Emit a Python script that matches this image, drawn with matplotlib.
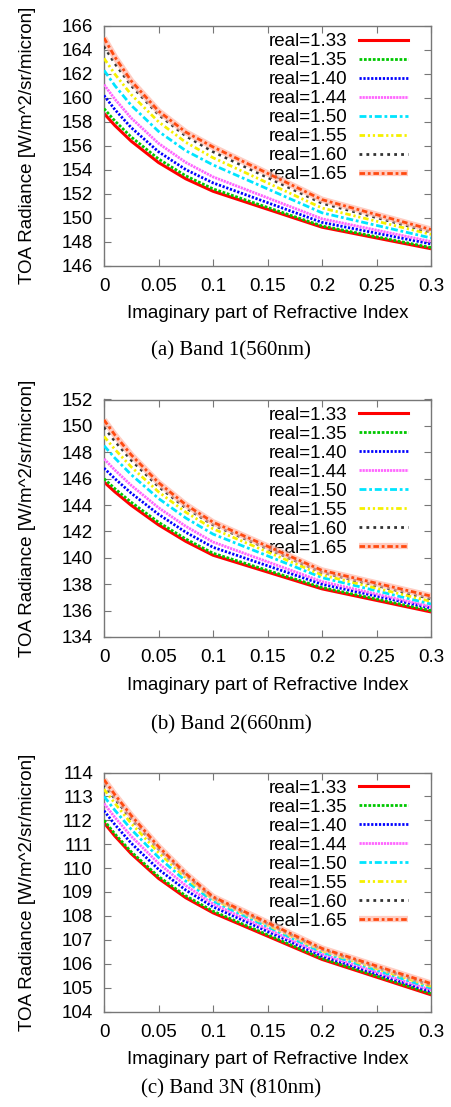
import matplotlib
matplotlib.use("Agg")
import matplotlib.pyplot as plt

# ---------------- data ----------------
imag_k = [0.0, 0.01, 0.025, 0.05, 0.075, 0.1, 0.2, 0.3]
real_labels = ["real=1.33", "real=1.35", "real=1.40", "real=1.44",
               "real=1.50", "real=1.55", "real=1.60", "real=1.65"]

band1 = [
    [158.70, 157.69, 156.38, 154.6, 153.24, 152.2, 149.2, 147.4],
    [159.10, 158.07, 156.73, 154.9, 153.49, 152.4, 149.3, 147.5],
    [160.20, 159.02, 157.51, 155.5, 154.01, 152.9, 149.6, 147.8],
    [161.10, 159.89, 158.31, 156.2, 154.61, 153.4, 149.9, 148.0],
    [162.30, 161.02, 159.37, 157.2, 155.59, 154.4, 150.4, 148.3],
    [163.30, 161.98, 160.27, 158.0, 156.29, 155.0, 150.8, 148.6],
    [164.30, 162.86, 161.02, 158.6, 156.82, 155.5, 151.2, 148.8],
    [165.00, 163.41, 161.41, 158.9, 157.14, 155.9, 151.5, 149.0],
]
band2 = [
    [145.75, 145.00, 143.98, 142.5, 141.25, 140.20, 137.65, 135.9],
    [146.00, 145.24, 144.21, 142.7, 141.43, 140.35, 137.75, 136.0],
    [146.80, 146.00, 144.90, 143.3, 141.94, 140.80, 138.00, 136.2],
    [147.50, 146.65, 145.49, 143.8, 142.39, 141.20, 138.20, 136.3],
    [148.50, 147.56, 146.30, 144.5, 143.02, 141.80, 138.50, 136.5],
    [149.20, 148.22, 146.89, 145.0, 143.46, 142.20, 138.70, 136.7],
    [149.90, 148.84, 147.40, 145.4, 143.79, 142.50, 138.90, 136.9],
    [150.45, 149.31, 147.80, 145.7, 144.03, 142.70, 139.05, 137.1],
]
band3 = [
    [111.90, 111.34, 110.60, 109.57, 108.76, 108.13, 106.18, 104.70],
    [112.00, 111.43, 110.68, 109.65, 108.84, 108.20, 106.22, 104.75],
    [112.40, 111.82, 111.04, 109.95, 109.08, 108.38, 106.32, 104.83],
    [112.70, 112.12, 111.33, 110.20, 109.27, 108.50, 106.40, 104.90],
    [113.00, 112.42, 111.62, 110.45, 109.46, 108.62, 106.48, 104.98],
    [113.30, 112.71, 111.87, 110.65, 109.60, 108.70, 106.54, 105.05],
    [113.50, 112.90, 112.06, 110.80, 109.71, 108.76, 106.60, 105.10],
    [113.70, 113.07, 112.20, 110.90, 109.77, 108.80, 106.64, 105.17],
]

x_ticks = [0, 0.05, 0.1, 0.15, 0.2, 0.25, 0.3]
x_ticklabels = ["0", "0.05", "0.1", "0.15", "0.2", "0.25", "0.3"]
y_ticks1 = [146, 148, 150, 152, 154, 156, 158, 160, 162, 164, 166]
y_ticks2 = [134, 136, 138, 140, 142, 144, 146, 148, 150, 152]
y_ticks3 = [104, 105, 106, 107, 108, 109, 110, 111, 112, 113, 114]
captions = ["(a) Band 1(560nm)", "(b) Band 2(660nm)", "(c) Band 3N (810nm)"]
xlabel = "Imaginary part of Refractive Index"
ylabel = "TOA Radiance [W/m^2/sr/micron]"

# ---------------- styles ----------------
colors = ["#ff0000", "#00c800", "#0000ff", "#ff66ff",
          "#00e5ff", "#f5f000", "#333333", "#ff4a10"]
dashes = [None, (1.0, 0.6), (0.8, 0.6), (0.8, 0.3),
          (2.5, 1.0, 1.0, 1.0), (2.0, 1.0, 0.8, 1.0, 0.8, 1.0),
          (1.0, 1.5), (2.0, 1.0, 1.0, 1.0)]

plt.rcParams['font.family'] = ['Liberation Sans', 'DejaVu Sans']
fs = 13.5

fig = plt.figure(figsize=(4.51, 11.07), dpi=100)
H = 1107.0
W = 451.0
left = 104 / W
width = (431 - 104) / W
# (data, yticks, axes top px, axes bottom px, xlabel centre px, caption centre px)
panels = [
    (band1, y_ticks1, 26.0, 265.5, 313.0, 351.0),
    (band2, y_ticks2, 399.5, 637.0, 686.0, 725.0),
    (band3, y_ticks3, 772.5, 1011.5, 1059.0, 1089.0),
]

for (data, yt, top, bot, xl_y, cap_y), cap in zip(panels, captions):
    ax = fig.add_axes([left, 1 - bot / H, width, (bot - top) / H])
    handles = []
    for i, (ys, lab) in enumerate(zip(data, real_labels)):
        if i == 7:
            halo, = ax.plot(imag_k, ys, color="#ffb8a8", lw=4.5, alpha=0.7,
                            solid_capstyle='butt', zorder=2 + i)
            ln, = ax.plot(imag_k, ys, color=colors[i], lw=2.0, zorder=2.5 + i)
            ln.set_dashes(dashes[i])
            handles.append((halo, ln))
        else:
            ln, = ax.plot(imag_k, ys, color=colors[i], lw=2.2 if i == 0 else 2.0,
                          zorder=2 + i)
            if dashes[i] is not None:
                ln.set_dashes(dashes[i])
            handles.append(ln)
    ax.set_xlim(0, 0.3)
    ax.set_ylim(yt[0], yt[-1])
    ax.set_xticks(x_ticks)
    ax.set_xticklabels(x_ticklabels)
    ax.set_yticks(yt)
    ax.tick_params(direction='in', top=True, right=True, length=5,
                   width=0.8, color='#777777', labelsize=fs)
    ax.tick_params(axis='x', pad=9)
    ax.tick_params(axis='y', pad=8)
    for sp in ax.spines.values():
        sp.set_color('#777777')
        sp.set_linewidth(1.0)
    fig.text(267.5 / W, 1 - xl_y / H, xlabel, ha='center', va='center',
             fontsize=fs)
    fig.text(28 / W, 1 - (top + bot) / 2 / H, ylabel, ha='center',
             va='center', rotation=90, fontsize=fs)
    ax.legend(handles, real_labels, loc='upper right', frameon=False,
              markerfirst=False, fontsize=fs, handlelength=2.6,
              handletextpad=0.64, labelspacing=0.1, borderaxespad=0.0,
              borderpad=0.0, bbox_to_anchor=(0.93, 0.97))
    fig.text(231 / W, 1 - cap_y / H, cap, ha='center', va='center',
             fontsize=15, family='Liberation Serif')

fig.savefig("out.png", dpi=100)
